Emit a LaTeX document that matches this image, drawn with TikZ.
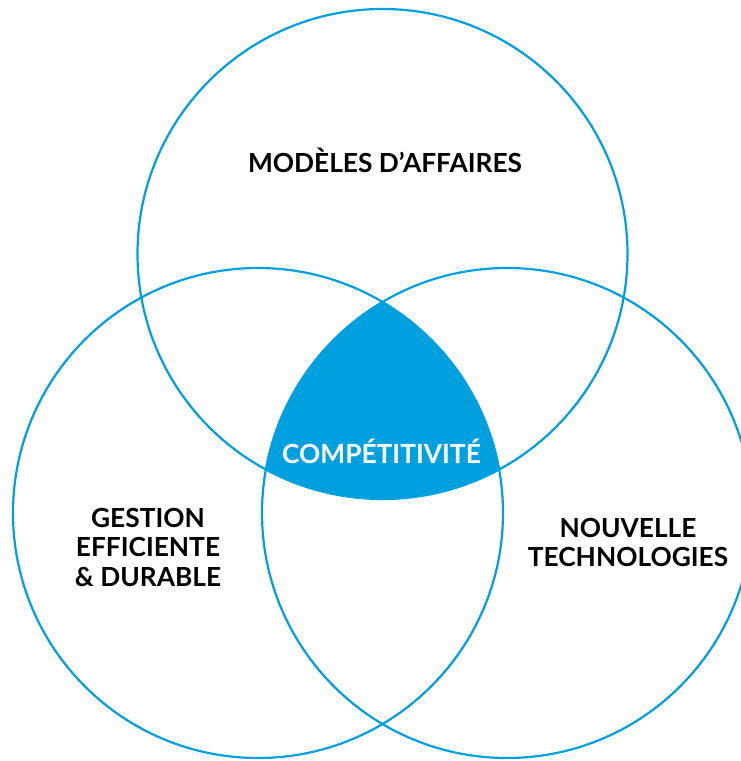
\documentclass[tikz,border=0pt]{standalone}
\usepackage{fontspec}
\setmainfont{Lato}
\definecolor{vennblue}{RGB}{0,160,223}
\tikzset{
  venn/.style={circle, draw=vennblue, line width=2.2pt, minimum size=490pt, inner sep=0pt},
  vtext/.style={font=\bfseries\fontsize{26.3}{29.5}\selectfont, align=center, anchor=base}
}
\begin{document}
\begin{tikzpicture}[x=1pt, y=-1pt]
    \useasboundingbox (0,0) rectangle (741,761);

    % Circle centres
    \coordinate (cTop) at (382.5,254);
    \coordinate (cLeft) at (258,513);
    \coordinate (cRight) at (507,513);

    % Fill the common part of the three circles
    \begin{scope}
        \clip (cTop) circle (245pt);
        \clip (cLeft) circle (245pt);
        \fill[vennblue] (cRight) circle (245pt);
    \end{scope}

    % Draw the circles
    \node[venn] (modeles) at (cTop) {};
    \node[venn] (gestion) at (cLeft) {};
    \node[venn] (techno) at (cRight) {};

    % Add labels
    \node[vtext] (tModeles) at (385,172.5) {MODÈLES D’AFFAIRES};
    \node[vtext] (tGestion) at (148,586) {GESTION\\EFFICIENTE\\\& DURABLE};
    \node[vtext] (tTechno) at (628,566.5) {NOUVELLE\\TECHNOLOGIES};
    \node[vtext, text=white] (tCompet) at (381.5,463) {COMPÉTITIVITÉ};
\end{tikzpicture}
\end{document}
